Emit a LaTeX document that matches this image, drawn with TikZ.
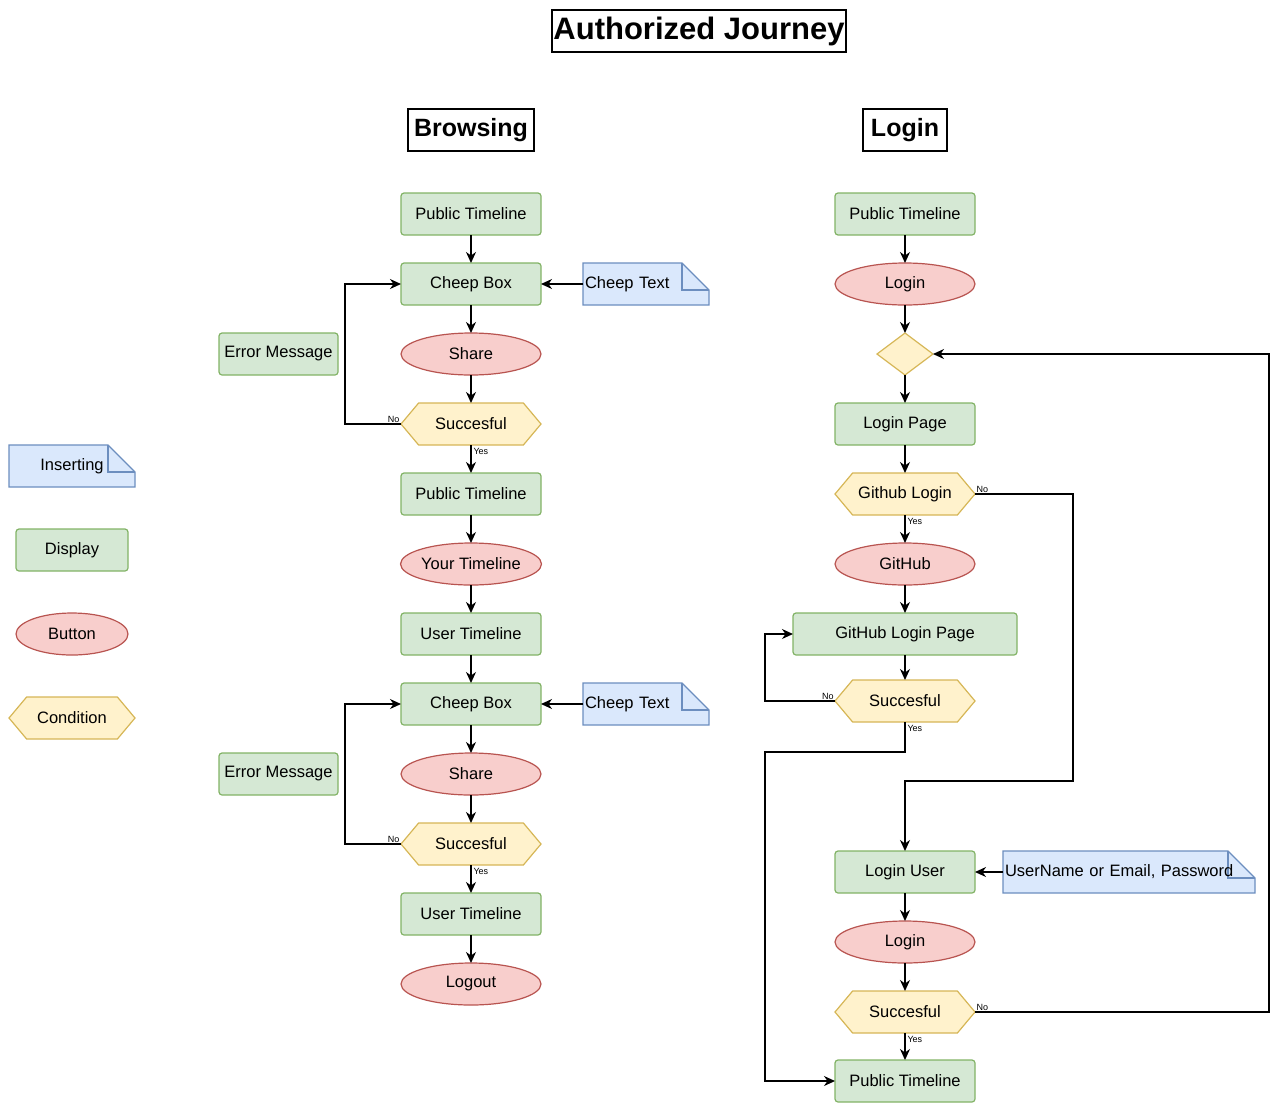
\documentclass[tikz,border=0pt]{standalone}
\usepackage{fontspec}
\setmainfont{Liberation Sans}
\usepackage{xcolor}
\usepackage{tikz}
\usetikzlibrary{shapes.geometric, shapes.symbols, arrows.meta, positioning, backgrounds}

\definecolor{dispfill}{HTML}{D5E8D4}
\definecolor{displine}{HTML}{82B366}
\definecolor{btnfill}{HTML}{F8CECC}
\definecolor{btnline}{HTML}{B85450}
\definecolor{condfill}{HTML}{FFF2CC}
\definecolor{condline}{HTML}{D6B656}
\definecolor{notefill}{HTML}{DAE8FC}
\definecolor{noteline}{HTML}{6C8EBF}

\begin{document}
\begin{tikzpicture}[
        x=1pt, y=-1pt,
        node distance=28pt,
        font=\fontsize{16.5}{19}\selectfont,
        every node/.style={outer sep=0pt},
        display/.style={rectangle, draw=displine, fill=dispfill, line width=1.2pt, rounded corners=3pt, minimum width=140pt, minimum height=42pt, inner sep=0pt},
        button/.style={ellipse, draw=btnline, fill=btnfill, line width=1.2pt, minimum width=140pt, minimum height=42pt, inner sep=0pt},
        condition/.style={signal, signal to=west and east, signal pointer angle=100, draw=condline, fill=condfill, line width=1.2pt, minimum width=140pt, minimum height=42pt, inner sep=0pt},
        choice/.style={diamond, draw=condline, fill=condfill, line width=1.2pt, minimum width=56pt, minimum height=42pt, inner sep=0pt},
        inserting/.style={rectangle, text width=122pt, align=left, minimum height=42pt, inner xsep=2pt, inner ysep=0pt},
        notebody/.style={draw=noteline, fill=notefill, line width=1.2pt},
        heading/.style={draw, line width=1.2pt, font=\fontsize{25}{30}\selectfont\bfseries, minimum height=42pt, inner sep=0pt},
        arrow/.style={line width=1.3pt, -{Stealth[length=11pt, width=10pt, inset=3.5pt]}},
        answer/.style={font=\fontsize{9}{10}\selectfont, inner sep=1.5pt},
        yes/.style={answer, below right, inner xsep=2.5pt, inner ysep=3pt}
    ]
    \useasboundingbox (0,0) rectangle (1280,1112);

    % titles
    \node (title) [heading, font=\fontsize{31}{36}\selectfont\bfseries, minimum width=294pt] at (699,31) {Authorized Journey};
    \node (browsehead) [heading, minimum width=126pt] at (471,130) {Browsing};
    \node (loginhead) [heading, minimum width=84pt] at (905,130) {Login};

    % legend
    \node (leginsert) [inserting, align=center] at (72,466) {Inserting};
    \node (legdisplay) [display, minimum width=112pt] at (72,550) {Display};
    \node (legbutton) [button, minimum width=112pt] at (72,634) {Button};
    \node (legcond) [condition, minimum width=126pt] at (72,718) {Condition};

    % browsing
    \node (ptl1) [display] at (471,214) {Public Timeline};
    \node (cheep1) [display, below=of ptl1] {Cheep Box};
    \node (share1) [button, below=of cheep1] {Share};
    \node (succ1) [condition, below=of share1] {Succesful};
    \node (ptl2) [display, below=of succ1] {Public Timeline};
    \node (yourtl) [button, below=of ptl2] {Your Timeline};
    \node (usertl1) [display, below=of yourtl] {User Timeline};
    \node (cheep2) [display, below=of usertl1] {Cheep Box};
    \node (share2) [button, below=of cheep2] {Share};
    \node (succ2) [condition, below=of share2] {Succesful};
    \node (usertl2) [display, below=of succ2] {User Timeline};
    \node (logout) [button, below=of usertl2] {Logout};

    \node (err1) [display, minimum width=119pt, left=63pt of share1] {Error Message};
    \node (err2) [display, minimum width=119pt, left=63pt of share2] {Error Message};
    \node (ctext1) [inserting, right=42pt of cheep1] {Cheep Text};
    \node (ctext2) [inserting, right=42pt of cheep2] {Cheep Text};

    % login
    \node (ptl3) [display] at (905,214) {Public Timeline};
    \node (loginbtn1) [button, below=of ptl3] {Login};
    \node (pick) [choice, below=of loginbtn1] {};
    \node (loginpage) [display, below=of pick] {Login Page};
    \node (ghlogin) [condition, below=of loginpage] {Github Login};
    \node (ghbtn) [button, below=of ghlogin] {GitHub};
    \node (ghpage) [display, minimum width=224pt, below=of ghbtn] {GitHub Login Page};
    \node (ghsucc) [condition, below=25pt of ghpage] {Succesful};
    \node (loginuser) [display] at (905,872) {Login User};
    \node (userpass) [inserting, text width=248pt, right=28pt of loginuser] {UserName or Email, Password};
    \node (loginbtn2) [button, below=of loginuser] {Login};
    \node (lsucc) [condition, below=of loginbtn2] {Succesful};
    \node (ptl4) [display, below=27pt of lsucc] {Public Timeline};

    % note outlines with folded corner
    \begin{scope}[on background layer]
        \foreach \n in {leginsert, ctext1, ctext2, userpass} {
            \draw [notebody] (\n.south west) -- (\n.north west) -- ([xshift=-27pt]\n.north east)
                -- ([yshift=-27pt]\n.north east) -- (\n.south east) -- cycle;
            \draw [noteline, line width=1.2pt] ([xshift=-27pt]\n.north east) |- ([yshift=-27pt]\n.north east);
        }
    \end{scope}

    \coordinate (bendA) at (1073,781);
    \coordinate (bendB) at (765,752);

    % browsing arrows
    \draw [arrow] (ptl1) -- (cheep1);
    \draw [arrow] (cheep1) -- (share1);
    \draw [arrow] (share1) -- (succ1);
    \draw [arrow] (succ1.south) node [yes] {Yes} -- (ptl2);
    \draw [arrow] (succ1.west) node [answer, above left] {No} -- ++(-56,0) |- (cheep1.west);
    \draw [arrow] (ctext1) -- (cheep1);
    \draw [arrow] (ptl2) -- (yourtl);
    \draw [arrow] (yourtl) -- (usertl1);
    \draw [arrow] (usertl1) -- (cheep2);
    \draw [arrow] (cheep2) -- (share2);
    \draw [arrow] (share2) -- (succ2);
    \draw [arrow] (succ2.south) node [yes] {Yes} -- (usertl2);
    \draw [arrow] (succ2.west) node [answer, above left] {No} -- ++(-56,0) |- (cheep2.west);
    \draw [arrow] (ctext2) -- (cheep2);
    \draw [arrow] (usertl2) -- (logout);

    % login arrows
    \draw [arrow] (ptl3) -- (loginbtn1);
    \draw [arrow] (loginbtn1) -- (pick);
    \draw [arrow] (pick) -- (loginpage);
    \draw [arrow] (loginpage) -- (ghlogin);
    \draw [arrow] (ghlogin.south) node [yes] {Yes} -- (ghbtn);
    \draw [arrow] (ghlogin.east) node [answer, above right] {No} -| (bendA) -| (loginuser.north);
    \draw [arrow] (ghbtn) -- (ghpage);
    \draw [arrow] (ghpage) -- (ghsucc);
    \draw [arrow] (ghsucc.west) node [answer, above left] {No} -- ++(-70,0) |- (ghpage.west);
    \draw [arrow] (ghsucc.south) node [yes] {Yes} |- (bendB) |- (ptl4.west);
    \draw [arrow] (userpass) -- (loginuser);
    \draw [arrow] (loginuser) -- (loginbtn2);
    \draw [arrow] (loginbtn2) -- (lsucc);
    \draw [arrow] (lsucc.south) node [yes] {Yes} -- (ptl4);
    \draw [arrow] (lsucc.east) node [answer, above right] {No} -- ++(294,0) |- (pick.east);

\end{tikzpicture}
\end{document}
